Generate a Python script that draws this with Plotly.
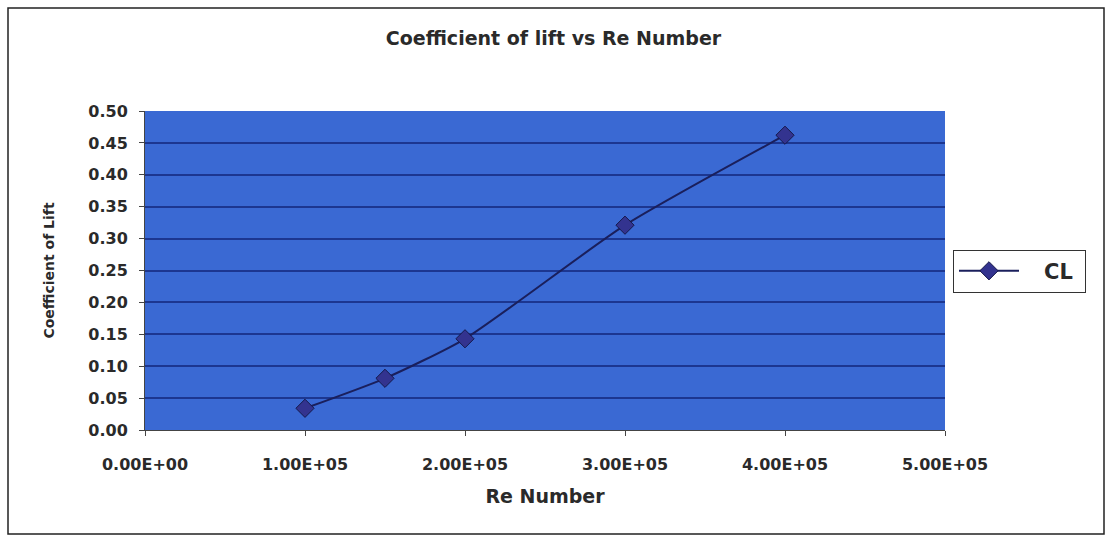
import plotly.graph_objects as go

re_number = [1.0e5, 1.5e5, 2.0e5, 3.0e5, 4.0e5]
cl_values = [0.034, 0.081, 0.143, 0.321, 0.462]
x_ticks = [0, 1e5, 2e5, 3e5, 4e5, 5e5]
x_tick_labels = ["0.00E+00", "1.00E+05", "2.00E+05", "3.00E+05", "4.00E+05", "5.00E+05"]
y_ticks = [0, 0.05, 0.10, 0.15, 0.20, 0.25, 0.30, 0.35, 0.40, 0.45, 0.50]
y_tick_labels = [f"{v:.2f}" for v in y_ticks]

font_family = "DejaVu Sans, Verdana, sans-serif"
text_color = "#2a2a2a"

fig = go.Figure()
fig.add_trace(go.Scatter(
    x=re_number, y=cl_values, name="&nbsp;&nbsp;&nbsp;<b>CL</b>&nbsp;", mode="lines+markers",
    line=dict(color="#1a1f5c", width=2, shape="spline", smoothing=0.6),
    marker=dict(symbol="diamond", size=14, color="#33338f",
                line=dict(color="#15184a", width=1)),
))

fig.update_layout(
    width=1107, height=536,
    paper_bgcolor="white",
    plot_bgcolor="#3a69d3",
    margin=dict(l=145, r=162, t=111, b=106, autoexpand=False),
    title=dict(text="<b>Coefficient of lift vs Re Number</b>", x=0.5, xanchor="center",
               y=1 - 38 / 536, yanchor="middle",
               font=dict(family=font_family, size=19, color=text_color)),
    font=dict(family=font_family, color=text_color),
    showlegend=True,
    legend=dict(x=1.01, xanchor="left", y=0.498, yanchor="middle",
                bordercolor="#333", borderwidth=1, bgcolor="white",
                font=dict(family=font_family, size=21, color=text_color),
                itemwidth=60),
    xaxis=dict(range=[0, 5e5], tickvals=x_ticks, ticktext=[f"<b>{t}</b>" for t in x_tick_labels],
               showgrid=False, zeroline=False, showline=True, linecolor="#444", linewidth=1,
               ticks="outside", ticklen=5, tickcolor="#444", ticklabelstandoff=15,
               tickfont=dict(size=16, color=text_color),
               title=dict(text="<b>Re Number</b>", font=dict(size=19, color=text_color), standoff=16)),
    yaxis=dict(range=[0, 0.5], tickvals=y_ticks, ticktext=[f"<b>{t}</b>" for t in y_tick_labels],
               showgrid=True, gridcolor="#1c3690", gridwidth=2, zeroline=False,
               showline=True, linecolor="#444", ticks="outside", ticklen=5, tickcolor="#444",
               ticklabelstandoff=8,
               tickfont=dict(size=16, color=text_color),
               title=dict(text="<b>Coefficient of Lift</b>", font=dict(size=14, color=text_color), standoff=30)),
    shapes=[dict(type="rect", xref="paper", yref="paper",
                 x0=(8 - 145) / 800, x1=(1104 - 145) / 800,
                 y0=(430 - 534) / 319, y1=(430 - 8) / 319,
                 line=dict(color="#222", width=1.5), fillcolor="rgba(0,0,0,0)", layer="below")],
)

fig.write_html("out.html", config={"displayModeBar": False},
               post_script="document.body.style.margin='0px';document.body.style.overflow='hidden';")
